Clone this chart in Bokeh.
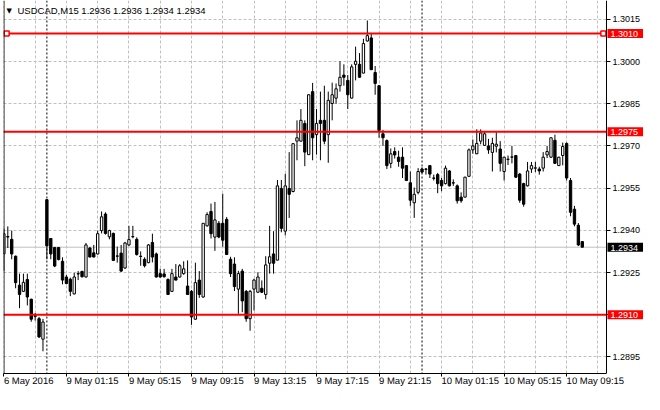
from bokeh.plotting import figure
from bokeh.models import (ColumnDataSource, FixedTicker, Span, Label, BoxAnnotation,
                          Range1d, NumeralTickFormatter)
from bokeh.embed import file_html
from bokeh.resources import INLINE

# USDCAD M15 candles
symbol = "USDCAD,M15"

open_ = [
    1.29316, 1.29376, 1.29368, 1.29308, 1.29205, 1.29183, 1.29225, 1.29155, 1.29096, 1.29086,
    1.29013, 1.29509, 1.29371, 1.29339, 1.29339, 1.29290, 1.29234, 1.29226, 1.29174, 1.29246,
    1.29254, 1.29234, 1.29337, 1.29320, 1.29316, 1.29399, 1.29458, 1.29377, 1.29389, 1.29309,
    1.29319, 1.29266, 1.29348, 1.29378, 1.29368, 1.29308, 1.29297, 1.29285, 1.29357, 1.29316,
    1.29246, 1.29245, 1.29225, 1.29183, 1.29234, 1.29234, 1.29246, 1.29202, 1.29183, 1.29084,
    1.29223, 1.29163, 1.29416, 1.29467, 1.29376, 1.29425, 1.29425, 1.29439, 1.29297, 1.29280,
    1.29191, 1.29255, 1.29183, 1.29086, 1.29191, 1.29180, 1.29194, 1.29172, 1.29283, 1.29316,
    1.29294, 1.29549, 1.29397, 1.29549, 1.29538, 1.29717, 1.29717, 1.29780, 1.29669, 1.29893,
    1.29740, 1.29791, 1.29791, 1.29740, 1.29851, 1.29870, 1.29914, 1.29952, 1.29933, 1.29870,
    1.29990, 1.29990, 1.29959, 1.30073, 1.30084, 1.29961, 1.29914, 1.29743, 1.29719, 1.29638,
    1.29680, 1.29660, 1.29660, 1.29630, 1.29569, 1.29498, 1.29535, 1.29618, 1.29618, 1.29630,
    1.29586, 1.29598, 1.29577, 1.29566, 1.29611, 1.29569, 1.29558, 1.29518, 1.29518, 1.29592,
    1.29686, 1.29672, 1.29717, 1.29702, 1.29700, 1.29677, 1.29699, 1.29689, 1.29609, 1.29652,
    1.29660, 1.29666, 1.29600, 1.29566, 1.29558, 1.29618, 1.29621, 1.29618, 1.29621, 1.29668,
    1.29660, 1.29720, 1.29630, 1.29666, 1.29709, 1.29577, 1.29475, 1.29418, 1.29360,
]
high = [
    1.29406, 1.29414, 1.29399, 1.29310, 1.29246, 1.29246, 1.29246, 1.29157, 1.29106, 1.29092,
    1.29085, 1.29511, 1.29372, 1.29341, 1.29341, 1.29304, 1.29242, 1.29232, 1.29249, 1.29255,
    1.29256, 1.29355, 1.29341, 1.29348, 1.29399, 1.29467, 1.29464, 1.29402, 1.29392, 1.29342,
    1.29348, 1.29359, 1.29416, 1.29416, 1.29375, 1.29325, 1.29304, 1.29351, 1.29388, 1.29321,
    1.29263, 1.29263, 1.29229, 1.29263, 1.29280, 1.29280, 1.29290, 1.29293, 1.29188, 1.29285,
    1.29255, 1.29426, 1.29464, 1.29495, 1.29501, 1.29433, 1.29530, 1.29447, 1.29306, 1.29304,
    1.29256, 1.29263, 1.29188, 1.29188, 1.29228, 1.29251, 1.29222, 1.29308, 1.29416, 1.29397,
    1.29579, 1.29579, 1.29601, 1.29678, 1.29709, 1.29791, 1.29831, 1.29791, 1.29883, 1.29924,
    1.29831, 1.29893, 1.29914, 1.29893, 1.29925, 1.29922, 1.30001, 1.29990, 1.29952, 1.29990,
    1.30053, 1.30030, 1.30081, 1.30146, 1.30098, 1.29984, 1.29915, 1.29757, 1.29723, 1.29691,
    1.29695, 1.29683, 1.29695, 1.29631, 1.29609, 1.29552, 1.29621, 1.29624, 1.29621, 1.29631,
    1.29598, 1.29604, 1.29586, 1.29630, 1.29614, 1.29581, 1.29563, 1.29535, 1.29590, 1.29691,
    1.29723, 1.29759, 1.29759, 1.29751, 1.29725, 1.29729, 1.29748, 1.29717, 1.29661, 1.29666,
    1.29700, 1.29668, 1.29604, 1.29569, 1.29643, 1.29643, 1.29643, 1.29626, 1.29678, 1.29700,
    1.29730, 1.29740, 1.29661, 1.29712, 1.29712, 1.29586, 1.29487, 1.29426, 1.29360,
]
low = [
    1.29256, 1.29337, 1.29297, 1.29194, 1.29123, 1.29181, 1.29133, 1.29075, 1.29079, 1.29017,
    1.28970, 1.29297, 1.29297, 1.29269, 1.29293, 1.29208, 1.29208, 1.29166, 1.29172, 1.29223,
    1.29232, 1.29232, 1.29304, 1.29304, 1.29314, 1.29389, 1.29385, 1.29368, 1.29292, 1.29285,
    1.29252, 1.29263, 1.29344, 1.29372, 1.29310, 1.29274, 1.29268, 1.29283, 1.29286, 1.29232,
    1.29232, 1.29232, 1.29170, 1.29181, 1.29222, 1.29232, 1.29242, 1.29171, 1.29064, 1.29082,
    1.29160, 1.29160, 1.29413, 1.29371, 1.29327, 1.29372, 1.29342, 1.29312, 1.29234, 1.29184,
    1.29103, 1.29109, 1.29075, 1.29043, 1.29115, 1.29177, 1.29177, 1.29155, 1.29246, 1.29246,
    1.29293, 1.29393, 1.29382, 1.29444, 1.29535, 1.29649, 1.29716, 1.29628, 1.29668, 1.29649,
    1.29669, 1.29649, 1.29706, 1.29640, 1.29791, 1.29850, 1.29893, 1.29914, 1.29831, 1.29869,
    1.29933, 1.29943, 1.29958, 1.30071, 1.29970, 1.29882, 1.29729, 1.29700, 1.29618, 1.29621,
    1.29655, 1.29626, 1.29586, 1.29576, 1.29487, 1.29444, 1.29528, 1.29603, 1.29598, 1.29586,
    1.29577, 1.29532, 1.29539, 1.29563, 1.29556, 1.29558, 1.29495, 1.29498, 1.29517, 1.29590,
    1.29672, 1.29671, 1.29706, 1.29701, 1.29672, 1.29609, 1.29677, 1.29609, 1.29577, 1.29632,
    1.29638, 1.29586, 1.29498, 1.29484, 1.29556, 1.29604, 1.29607, 1.29598, 1.29609, 1.29657,
    1.29657, 1.29637, 1.29629, 1.29631, 1.29577, 1.29450, 1.29414, 1.29344, 1.29340,
]
close = [
    1.29388, 1.29378, 1.29316, 1.29214, 1.29172, 1.29215, 1.29163, 1.29084, 1.29094, 1.29021,
    1.29074, 1.29345, 1.29316, 1.29273, 1.29296, 1.29223, 1.29211, 1.29183, 1.29234, 1.29245,
    1.29235, 1.29348, 1.29305, 1.29305, 1.29388, 1.29448, 1.29389, 1.29399, 1.29293, 1.29308,
    1.29255, 1.29355, 1.29367, 1.29377, 1.29314, 1.29307, 1.29274, 1.29348, 1.29305, 1.29234,
    1.29234, 1.29235, 1.29172, 1.29246, 1.29223, 1.29274, 1.29263, 1.29172, 1.29092, 1.29214,
    1.29172, 1.29425, 1.29456, 1.29388, 1.29437, 1.29376, 1.29365, 1.29314, 1.29246, 1.29200,
    1.29246, 1.29149, 1.29086, 1.29183, 1.29223, 1.29234, 1.29180, 1.29277, 1.29306, 1.29283,
    1.29558, 1.29407, 1.29558, 1.29528, 1.29708, 1.29729, 1.29791, 1.29678, 1.29882, 1.29729,
    1.29780, 1.29780, 1.29717, 1.29862, 1.29882, 1.29903, 1.29944, 1.29944, 1.29882, 1.29981,
    1.30001, 1.29944, 1.30064, 1.30092, 1.29971, 1.29922, 1.29755, 1.29729, 1.29630, 1.29672,
    1.29668, 1.29645, 1.29621, 1.29577, 1.29507, 1.29528, 1.29609, 1.29607, 1.29617, 1.29600,
    1.29585, 1.29566, 1.29558, 1.29621, 1.29558, 1.29568, 1.29505, 1.29505, 1.29589, 1.29686,
    1.29700, 1.29709, 1.29746, 1.29743, 1.29686, 1.29709, 1.29706, 1.29638, 1.29660, 1.29653,
    1.29661, 1.29589, 1.29507, 1.29493, 1.29611, 1.29630, 1.29622, 1.29611, 1.29660, 1.29680,
    1.29729, 1.29638, 1.29660, 1.29698, 1.29586, 1.29464, 1.29422, 1.29348, 1.29340,
]

# time axis: bar index of each label
tick_bars = [0, 16, 32, 48, 64, 80, 96, 112, 128, 144]
tick_labels = ["6 May 2016", "9 May 01:15", "9 May 05:15", "9 May 09:15", "9 May 13:15",
               "9 May 17:15", "9 May 21:15", "10 May 01:15", "10 May 05:15", "10 May 09:15"]
grid_bars = [0, 8, 16, 24, 32, 40, 48, 56, 64, 72, 80, 88, 96, 104, 112, 120, 128, 136, 144, 152]
day_breaks = [11, 107]  # period separators (00:00)

price_ticks = [1.2895, 1.2910, 1.2925, 1.2940, 1.2955, 1.2970, 1.2985, 1.3000, 1.3015]
levels = [1.3010, 1.2975, 1.2910]
bid = 1.2934

FONT = "Liberation Sans"
W, H = 644, 394
CHART_W = 603           # pixels of the candle area; the price scale sits to its right
FRAME_W = W - 3

# bar range of the candle area, then stretched to cover the price scale strip
x_start, chart_end = -0.1, 154.2
x_end = x_start + (chart_end - x_start) * FRAME_W / CHART_W
y_low, y_high = 1.28891, 1.30217

n = len(open_)
source = ColumnDataSource(dict(
    x=list(range(n)),
    high=high,
    low=low,
    top=[max(o, c) for o, c in zip(open_, close)],
    bottom=[min(o, c) for o, c in zip(open_, close)],
    fill=["white" if c >= o else "black" for o, c in zip(open_, close)],
))
lv_source = ColumnDataSource(dict(y=levels))

p = figure(width=W, height=H, x_range=Range1d(x_start, x_end),
           y_range=Range1d(y_low, y_high),
           x_axis_location="below", y_axis_location="right",
           output_backend="svg", toolbar_location=None,
           min_border_left=3, min_border_right=0, min_border_top=0, min_border_bottom=19)
p.outline_line_color = None

# price scale drawn at the right edge of the candle area
p.yaxis.fixed_location = chart_end
p.yaxis.ticker = FixedTicker(ticks=price_ticks)
p.yaxis.formatter = NumeralTickFormatter(format="0.0000")
p.yaxis.major_label_text_font = FONT
p.yaxis.major_label_text_font_size = "9px"
p.yaxis.major_label_text_color = "black"
p.yaxis.major_label_standoff = 2
p.yaxis.major_tick_in = 0
p.yaxis.major_tick_out = 4
p.yaxis.minor_tick_out = 0
p.yaxis.minor_tick_in = 0
p.yaxis.axis_line_color = "black"

# time axis, labels start at the tick (tiny negative angle -> left aligned)
p.xaxis.bounds = (x_start, chart_end)
p.xaxis.ticker = FixedTicker(ticks=tick_bars)
p.xaxis.major_label_overrides = dict(zip(tick_bars, tick_labels))
p.xaxis.major_label_orientation = -0.001
p.xaxis.major_label_text_font = FONT
p.xaxis.major_label_text_font_size = "9.5px"
p.xaxis.major_label_text_color = "black"
p.xaxis.major_label_standoff = 4
p.xaxis.major_tick_in = 0
p.xaxis.major_tick_out = 3
p.xaxis.minor_tick_out = 0
p.xaxis.minor_tick_in = 0
p.xaxis.axis_line_color = "black"

p.xgrid.ticker = FixedTicker(ticks=grid_bars)
p.ygrid.ticker = FixedTicker(ticks=price_ticks)
for g in (p.xgrid, p.ygrid):
    g.grid_line_color = "#C0C0C0"
    g.grid_line_dash = "3 2"
    g.grid_line_width = 1

# keep the price strip clear of grid lines
p.add_layout(BoxAnnotation(left=chart_end, fill_color="white", fill_alpha=1,
                           line_alpha=0, level="underlay"))
p.add_layout(Span(location=x_start + 0.12, dimension="height", line_color="black",
                  line_width=1))
for b in day_breaks:
    p.add_layout(Span(location=b, dimension="height", line_color="black",
                      line_dash="2 2", line_width=1, level="underlay"))

# bid line
p.segment(x0=x_start, y0=bid, x1=chart_end, y1=bid, line_color="#C0C0C0", line_width=1)

# candles
p.segment(x0="x", y0="high", x1="x", y1="low", source=source,
          line_color="black", line_width=1)
p.vbar(x="x", width=0.6, top="top", bottom="bottom", source=source,
       fill_color="fill", line_color="black", line_width=1)

# horizontal levels
p.segment(x0=x_start, y0="y", x1=chart_end, y1="y", source=lv_source,
          line_color="#FF0000", line_width=2)


def price_box(price, color):
    return Label(x=chart_end, y=price, x_offset=1, text=f"{price:.4f}",
                 text_align="left", text_baseline="middle",
                 text_color="white", text_font=FONT, text_font_size="9px",
                 background_fill_color=color,
                 padding=dict(left=3, right=5, top=2, bottom=1))


for lv in levels:
    p.add_layout(price_box(lv, "#FF0000"))
p.add_layout(price_box(bid, "black"))

# selection handles on the top level line
p.scatter(x=[x_start + 0.8, chart_end - 0.8], y=[levels[0], levels[0]],
          marker="square", size=5, fill_color="white", line_color="#FF0000",
          line_width=1.5)

# header
p.add_layout(Label(x=x_start, y=y_high, x_offset=3, y_offset=-6, text="\u25bc",
                   text_baseline="top", text_font="DejaVu Sans", text_font_size="7px",
                   text_color="black"))
p.add_layout(Label(x=x_start, y=y_high, x_offset=14, y_offset=-4,
                   text=f"{symbol}  {open_[-1]:.4f} {high[-1]:.4f} {low[-1]:.4f} {close[-1]:.4f}",
                   text_baseline="top", text_font=FONT, text_font_size="9.5px",
                   text_color="black"))

open("out.html", "w").write(file_html(p, INLINE))
